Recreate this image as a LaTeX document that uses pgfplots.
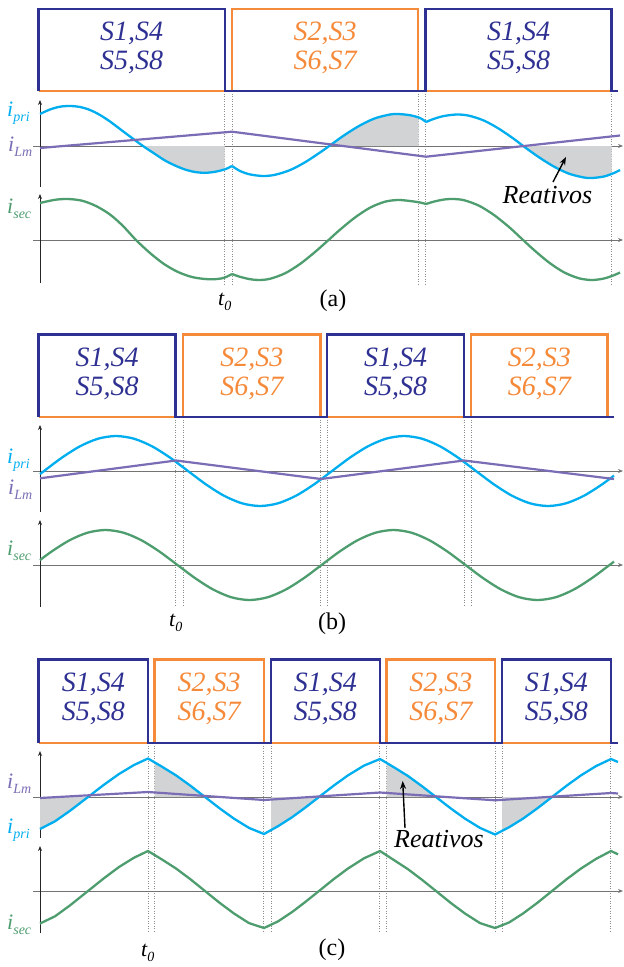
\documentclass[border=0pt]{standalone}
\usepackage{fontspec}
\setmainfont{Liberation Serif}
\usepackage{pgfplots}
\pgfplotsset{compat=1.18}
\usetikzlibrary{arrows.meta}
\definecolor{gblue}{HTML}{2E3192}
\definecolor{gorange}{HTML}{F58A3A}
\definecolor{ccyan}{HTML}{00AEEF}
\definecolor{cpurple}{HTML}{7B6DB5}
\definecolor{cgreen}{HTML}{4E9D6F}
\definecolor{shade}{HTML}{D1D3D4}
\pgfplotsset{
  base/.style={scale only axis, xmin=-7, xmax=583, width=590pt, clip=false, anchor=south west},
  gate/.style={base, hide axis, ymin=0},
  cur/.style={base, axis lines=middle, xtick=\empty, ytick=\empty,
     x axis line style={black!55, line width=0.9pt, -{Stealth[length=5pt,width=4pt]}},
     y axis line style={black!85, line width=0.9pt, -{Stealth[length=5pt,width=4pt]}}},
  sig/.style={line width=2.3pt, line join=miter},
  dl/.style={black!45, line width=0.7pt, dash pattern=on 1pt off 1.5pt},
  fl/.style={fill=shade, draw=none},
  cp/.style={ccyan, line width=2.3pt, line join=round},
  cl/.style={cpurple, line width=2.2pt, line join=round},
  cs/.style={cgreen, line width=2.3pt, line join=round},
}
\tikzset{btxt/.style={align=center, inner sep=0pt, font=\fontsize{28}{29}\selectfont\itshape}}
\newcommand{\lbl}[2]{{\fontsize{22}{22}\selectfont\itshape #1}\raisebox{-5.5pt}{\fontsize{14}{14}\selectfont\itshape #2}}
\begin{document}
\begin{tikzpicture}
\path (0pt,0pt) rectangle (624pt,-967pt);
% ================= (a) =================
\begin{axis}[gate, ymax=82, height=82pt, at={(33pt,-91pt)}]
\addplot[dl] coordinates {(184.7,0) (184.7,-193)};
\addplot[dl] coordinates {(192,0) (192,-193)};
\addplot[dl] coordinates {(378.5,0) (378.5,-193)};
\addplot[dl] coordinates {(385.5,0) (385.5,-193)};
\addplot[dl] coordinates {(571.5,0) (571.5,-193)};
\addplot[sig, gorange] coordinates {(-1.4,0) (192,0) (192,82) (378,82) (378,0) (571.5,0)};
\addplot[sig, gblue] coordinates {(-1.4,0) (-1.4,82) (184.7,82) (184.7,0) (385.5,0) (385.5,82) (571.5,82) (571.5,0) (577.5,0)};
\node[btxt, text=gblue] at (axis cs:91.6,43) {S1,S4\\S5,S8};
\node[btxt, text=gorange] at (axis cs:285,43) {S2,S3\\S6,S7};
\node[btxt, text=gblue] at (axis cs:478.5,43) {S1,S4\\S5,S8};
\end{axis}
\begin{axis}[cur, ymin=-41, ymax=46, height=87pt, at={(33pt,-187pt)}]
\addplot[fl, smooth] coordinates {(103,0) (115,-8) (125,-14.5) (135,-19.5) (145,-23.5) (155,-26) (165,-26.8) (175,-25.8) (184.7,-23.3)} \closedcycle;
\addplot[fl, smooth] coordinates {(289,0) (305,11.3) (320,20.6) (335,27.7) (350,31.5) (358,32) (370,30.8) (378.5,28.5)} \closedcycle;
\addplot[fl, smooth] coordinates {(483.5,0) (499,-11.3) (514,-20.6) (529,-27.7) (544,-31.5) (552,-32) (564,-30.5) (571.5,-28)} \closedcycle;
\addplot[cp, smooth] coordinates {(0,32) (10,36.5) (20,39.3) (30,40) (40,39) (50,36) (60,31) (70,24.5) (80,17) (90,9.5) (103,0) (115,-8) (125,-14.5) (135,-19.5) (145,-23.5) (155,-26) (165,-26.8) (175,-25.8) (185,-23.3) (192,-20)};
\addplot[cp, smooth] coordinates {(192,-20) (200,-25) (210,-28.4) (223,-30) (235,-28.8) (250,-24.1) (265,-16.3) (280,-6.5) (290,0.6) (305,11.3) (320,20.6) (335,27.7) (350,31.5) (358,32) (370,30.8) (380,28) (386,24)};
\addplot[cp, smooth] coordinates {(386,24) (394,27.2) (404,30) (417,31.5) (429,30.3) (444,25.4) (459,17.2) (474,7) (484,-0.6) (499,-11.3) (514,-20.6) (529,-27.7) (544,-31.5) (552,-32) (564,-30.5) (574,-27) (580,-24)};
\addplot[cl] coordinates {(0,-2) (192,14.3) (386,-10.7) (580,10.5)};
\end{axis}
\begin{axis}[cur, ymin=-43, ymax=46, height=89pt, at={(33pt,-283pt)}]
\addplot[cs, smooth] coordinates {(0,37) (15,40.2) (28,41) (42,39.3) (56,34) (70,25.5) (83,14) (96,0) (110,-13) (124,-24) (138,-32) (152,-37) (165,-39) (175,-39.2) (184,-37.8) (192,-34)};
\addplot[cs, smooth] coordinates {(192,-34) (200,-36.8) (210,-39.2) (219,-40) (230,-38.8) (245,-33.3) (260,-24) (275,-12) (288,-0.5) (300,10.3) (315,22.5) (330,32.3) (345,38.3) (358,40) (370,39) (380,37.5) (386,36)};
\addplot[cs, smooth] coordinates {(386,36) (394,38.4) (404,40.5) (413,41) (424,39.8) (439,34.3) (454,25) (469,13) (482,1) (494,-10) (509,-22.5) (524,-32.3) (539,-38.3) (552,-40) (564,-38.5) (574,-35.2) (580,-32.5)};
\end{axis}
\node[anchor=base west, inner sep=0pt, text=ccyan] at (7pt,-116pt) {\lbl{i}{pri}};
\node[anchor=base west, inner sep=0pt, text=cpurple] at (8pt,-151pt) {\lbl{i}{Lm}};
\node[anchor=base west, inner sep=0pt, text=cgreen] at (7pt,-213pt) {\lbl{i}{sec}};
\node[anchor=base west, inner sep=0pt] at (218pt,-305pt) {\lbl{t}{0}};
\node[anchor=base, inner sep=0pt, font=\fontsize{24}{24}\selectfont] at (333pt,-306pt) {(a)};
\node[anchor=base, inner sep=0pt, font=\fontsize{26}{26}\selectfont\itshape] at (547.5pt,-203pt) {Reativos};
\draw[black, line width=1.4pt, -{Stealth[length=8pt,width=6pt]}] (553pt,-182pt) -- (566pt,-157pt);
% ================= (b) =================
\begin{axis}[gate, ymax=82.5, height=82.5pt, at={(33pt,-417pt)}]
\addplot[dl] coordinates {(135.5,0) (135.5,-190)};
\addplot[dl] coordinates {(143,0) (143,-190)};
\addplot[dl] coordinates {(280.7,0) (280.7,-190)};
\addplot[dl] coordinates {(287.5,0) (287.5,-190)};
\addplot[dl] coordinates {(424,0) (424,-190)};
\addplot[dl] coordinates {(431,0) (431,-190)};
\addplot[sig, gorange] coordinates {(-1.4,0) (143,0) (143,82.5) (280.5,82.5) (280.5,0) (431,0) (431,82.5) (567.6,82.5) (567.6,0)};
\addplot[sig, gblue] coordinates {(-1.4,0) (-1.4,82.5) (135.5,82.5) (135.5,0) (287.3,0) (287.3,82.5) (424,82.5) (424,0) (573.5,0)};
\node[btxt, text=gblue] at (axis cs:67,43) {S1,S4\\S5,S8};
\node[btxt, text=gorange] at (axis cs:211.8,43) {S2,S3\\S6,S7};
\node[btxt, text=gblue] at (axis cs:355.7,43) {S1,S4\\S5,S8};
\node[btxt, text=gorange] at (axis cs:499.3,43) {S2,S3\\S6,S7};
\end{axis}
\begin{axis}[cur, ymin=-41, ymax=46, height=87pt, at={(33pt,-512pt)}]
\addplot[cp, smooth] coordinates {(0,-3.1) (4,0) (22,13.4) (40,24.7) (58,32.3) (76,35) (94,32.3) (112,24.7) (130,13.4) (148,0) (166,-13.4) (184,-24.7) (202,-32.3) (220,-35) (238,-32.3) (256,-24.7) (274,-13.4) (292,0) (310,13.4) (328,24.7) (346,32.3) (364,35) (382,32.3) (400,24.7) (418,13.4) (436,0) (454,-13.4) (472,-24.7) (490,-32.3) (508,-35) (526,-32.3) (544,-24.7) (562,-13.4) (574,-4.6)};
\addplot[cl] coordinates {(0,-7.3) (136,10.5) (281,-8) (424,10.5) (574,-8)};
\end{axis}
\begin{axis}[cur, ymin=-42, ymax=45, height=87pt, at={(33pt,-607pt)}]
\addplot[cs, smooth] coordinates {(0,4.9) (11.5,13.4) (29.5,24.7) (47.5,32.3) (65.5,35) (83.5,32.3) (101.5,24.7) (119.5,13.4) (137.5,0) (155.5,-13.4) (173.5,-24.7) (191.5,-32.3) (209.5,-35) (227.5,-32.3) (245.5,-24.7) (263.5,-13.4) (281.5,0) (299.5,13.4) (317.5,24.7) (335.5,32.3) (353.5,35) (371.5,32.3) (389.5,24.7) (407.5,13.4) (425.5,0) (443.5,-13.4) (461.5,-24.7) (479.5,-32.3) (497.5,-35) (515.5,-32.3) (533.5,-24.7) (551.5,-13.4) (569.5,0) (574,3.4)};
\end{axis}
\node[anchor=base west, inner sep=0pt, text=ccyan] at (7pt,-463pt) {\lbl{i}{pri}};
\node[anchor=base west, inner sep=0pt, text=cpurple] at (8pt,-494pt) {\lbl{i}{Lm}};
\node[anchor=base west, inner sep=0pt, text=cgreen] at (7pt,-555pt) {\lbl{i}{sec}};
\node[anchor=base west, inner sep=0pt] at (169pt,-626pt) {\lbl{t}{0}};
\node[anchor=base, inner sep=0pt, font=\fontsize{24}{24}\selectfont] at (332pt,-629pt) {(b)};
% ================= (c) =================
\begin{axis}[gate, ymax=83.5, height=83.5pt, at={(33pt,-743pt)}]
\addplot[dl] coordinates {(108.2,0) (108.2,-189)};
\addplot[dl] coordinates {(114.6,0) (114.6,-189)};
\addplot[dl] coordinates {(223.7,0) (223.7,-189)};
\addplot[dl] coordinates {(231,0) (231,-189)};
\addplot[dl] coordinates {(339.7,0) (339.7,-189)};
\addplot[dl] coordinates {(346.5,0) (346.5,-189)};
\addplot[dl] coordinates {(455.2,0) (455.2,-189)};
\addplot[dl] coordinates {(462,0) (462,-189)};
\addplot[dl] coordinates {(570.8,0) (570.8,-189)};
\addplot[sig, gorange] coordinates {(-1.4,0) (114.6,0) (114.6,83.5) (223.7,83.5) (223.7,0) (346.5,0) (346.5,83.5) (455.2,83.5) (455.2,0) (570.8,0)};
\addplot[sig, gblue] coordinates {(-1.4,0) (-1.4,83.5) (108.2,83.5) (108.2,0) (231,0) (231,83.5) (339.7,83.5) (339.7,0) (462,0) (462,83.5) (570.8,83.5) (570.8,0) (577.5,0)};
\node[btxt, text=gblue] at (axis cs:53.4,44) {S1,S4\\S5,S8};
\node[btxt, text=gorange] at (axis cs:169.2,44) {S2,S3\\S6,S7};
\node[btxt, text=gblue] at (axis cs:285.4,44) {S1,S4\\S5,S8};
\node[btxt, text=gorange] at (axis cs:400.9,44) {S2,S3\\S6,S7};
\node[btxt, text=gblue] at (axis cs:516.4,44) {S1,S4\\S5,S8};
\end{axis}
\begin{axis}[cur, ymin=-41, ymax=46, height=87pt, at={(33pt,-838pt)}]
\addplot[fl] coordinates {(0,-32) (15,-24.3) (30,-13.8) (48,0)} \closedcycle;
\addplot[fl] coordinates {(114.6,34.6) (122,30.3) (136,21.65) (150,11.6) (165,0)} \closedcycle;
\addplot[fl] coordinates {(231,-33.1) (238,-29.2) (252,-20.3) (265,-10.8) (279,0)} \closedcycle;
\addplot[fl] coordinates {(346.5,34.1) (354,29.7) (368,21) (382,10.8) (396,0)} \closedcycle;
\addplot[fl] coordinates {(462,-33.9) (469,-30.3) (483,-21.65) (497,-11.6) (512,0)} \closedcycle;
\addplot[cp] coordinates {(0,-32) (15,-24.3) (30,-13.8) (48,0) (64,12.3) (79,23) (94,32) (108,38.5) (122,30.3) (136,21.65) (150,11.6) (165,0) (180,-11.6) (194,-21.65) (209,-30.9) (224,-37) (238,-29.2) (252,-20.3) (265,-10.8) (279,0) (294,11.6) (308,21.65) (324,31.4) (340,38) (354,29.7) (368,21) (382,10.8) (396,0) (411,-11.6) (425,-21.65) (440,-30.9) (455,-37.5) (469,-30.3) (483,-21.65) (497,-11.6) (512,0) (527,11.6) (541,21.65) (556,30.9) (571,38) (578,35)};
\addplot[cl] coordinates {(0,-1) (108,5) (224,-3) (340,4.5) (455,-3.3) (571,4) (578,3.5)};
\end{axis}
\begin{axis}[cur, ymin=-42, ymax=45, height=87pt, at={(33pt,-933pt)}]
\addplot[cs] coordinates {(0,-32.5) (15,-25.3) (30,-14.4) (48,0) (64,12.8) (79,24) (94,33.3) (108,40) (122,31.5) (136,22.5) (150,12.1) (165,0) (180,-12.1) (194,-22.5) (209,-32.1) (224,-37) (238,-30.4) (252,-21.1) (265,-11.2) (279,0) (294,12.1) (308,22.5) (324,32.7) (340,40) (354,30.9) (368,21.8) (382,11.2) (396,0) (411,-12.1) (425,-22.5) (440,-32.1) (455,-37) (469,-31.5) (483,-22.5) (497,-12.1) (512,0) (527,12.1) (541,22.5) (556,32.1) (571,40) (578,36.7)};
\end{axis}
\node[anchor=base west, inner sep=0pt, text=cpurple] at (7pt,-788pt) {\lbl{i}{Lm}};
\node[anchor=base west, inner sep=0pt, text=ccyan] at (7pt,-833pt) {\lbl{i}{pri}};
\node[anchor=base west, inner sep=0pt, text=cgreen] at (7pt,-929pt) {\lbl{i}{sec}};
\node[anchor=base west, inner sep=0pt] at (141pt,-956pt) {\lbl{t}{0}};
\node[anchor=base, inner sep=0pt, font=\fontsize{24}{24}\selectfont] at (332pt,-955pt) {(c)};
\node[anchor=base, inner sep=0pt, font=\fontsize{26}{26}\selectfont\itshape] at (439pt,-847pt) {Reativos};
\draw[black, line width=1.4pt, -{Stealth[length=8pt,width=6pt]}] (405pt,-828pt) -- (402.7pt,-781pt);
\end{tikzpicture}
\end{document}
